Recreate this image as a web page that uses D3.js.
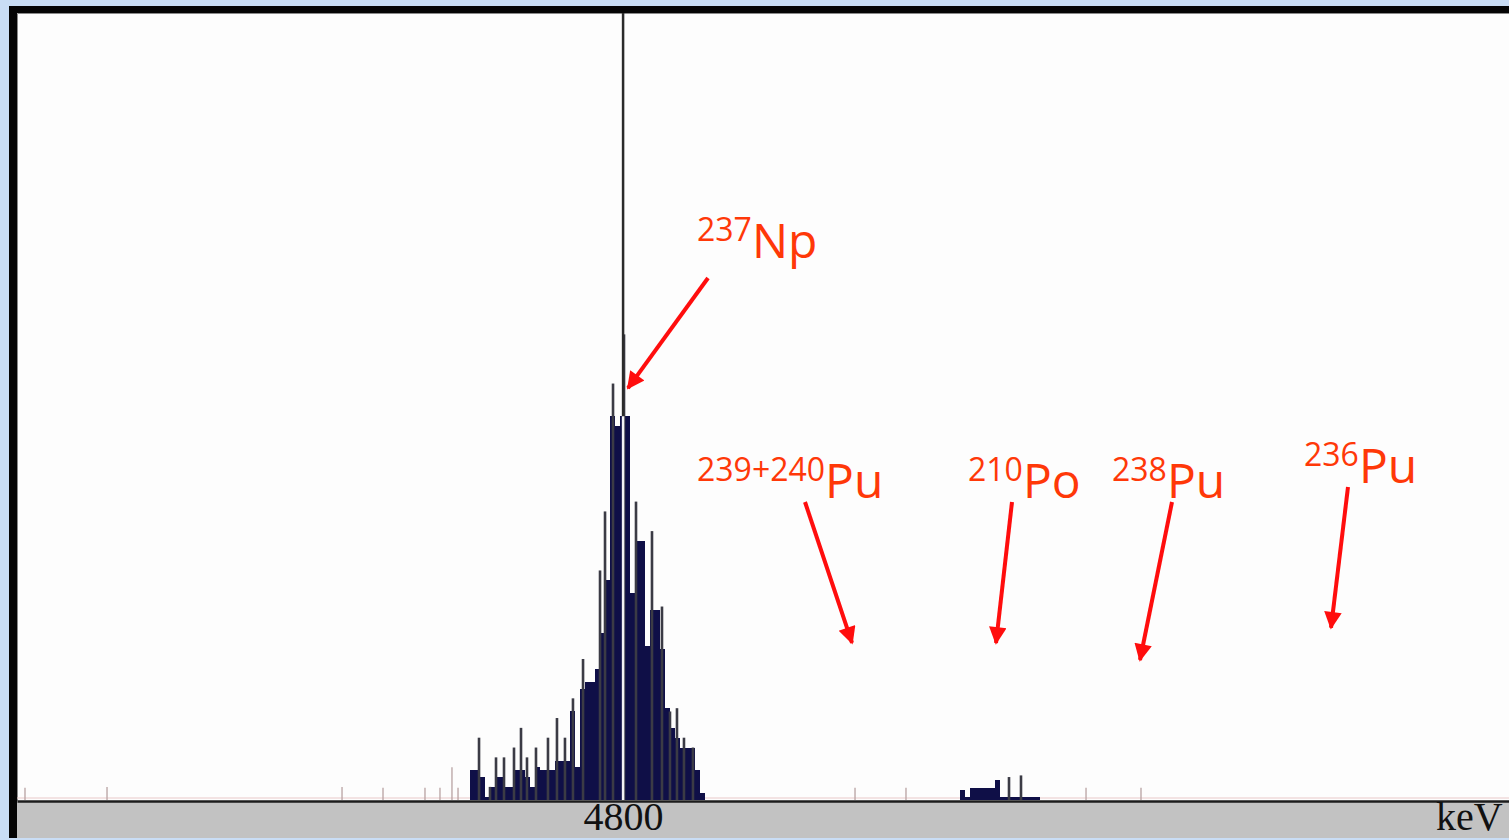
<!DOCTYPE html>
<html>
<head>
<meta charset="utf-8">
<script src="https://cdn.jsdelivr.net/npm/d3@7"></script>
<style>
  html, body { margin: 0; padding: 0; background: #c9ddf5; overflow: hidden; }
  svg { display: block; }
</style>
</head>
<body>
<svg id="chart" width="1509" height="840"></svg>
<script>
// Alpha spectrum: 237Np tracer peak and the empty Pu / Po windows.
// Energies in keV, contents in counts per channel.

// Main 237Np peak, binned channels
const npStart = 4585.5;
const binWidth = 7;
const npCounts = [9, 9, 7, 1, 4, 7, 7, 4, 4, 9,
                  9, 7, 4, 10, 9, 9, 9, 12, 12, 12,
                  27, 10, 34, 36, 36, 40, 51, 67, 117, 114,
                  117, 117, 63, 79, 79, 47, 58, 58, 46, 28,
                  22, 19, 16, 16, 16, 9, 2];

// Small group of counts in the 210Po window
const poStart = 5272;
const poCounts = [3, 0.8, 3.7, 3.7, 3.7, 3.7, 3.7, 6, 0.8, 0.8,
                  0.8, 0.8, 0.8, 0.8, 0.8, 0.8];

// Single-channel maxima rising above the binned contents
const spikeEnergies = [4598.2, 4613.6, 4622.0, 4633.2, 4647.2, 4657.0, 4665.4, 4678.0,
                       4694.8, 4707.4, 4718.6, 4729.8, 4743.9, 4767.7, 4774.7, 4785.9,
                       4801.3, 4818.1, 4840.5, 4854.5, 4865.7, 4875.5, 4885.3, 4897.9,
                       5340.6, 5357.4];
const spikeCounts = [19, 4, 13, 13, 16, 22, 13, 16,
                     19, 25, 19, 31, 43, 70, 88, 127,
                     142, 91, 82, 59, 27, 28, 19, 16,
                     7, 7.5];

// Isolated background counts
const noiseEnergies = [3962.2, 4077.1, 4406.3, 4463.7, 4522.5, 4543.5, 4560.3, 4568.8,
                       5124.9, 5196.3, 5448.5, 5525.5];
const noiseCounts = [3.7, 4, 4, 3.7, 3.7, 3.7, 10, 3.7, 3.7, 3.7, 3.7, 3.7];

// Axis
const xTickValues = [4800];
const xUnit = "keV";
const cursorEnergy = 4800;

// Nuclide annotations: mass number, element, where the arrow points (keV, counts)
const nuclideMass = ["237", "239+240", "210", "238", "236"];
const nuclideSymbol = ["Np", "Pu", "Po", "Pu", "Pu"];
const arrowTipEnergy = [4806.9, 5120.7, 5322.4, 5524.1, 5791.7];
const arrowTipCounts = [125.6, 47.9, 47.9, 42.7, 52.5];

// Label placement (label anchor in px, arrow tail offset from anchor)
const labelLayout = [
  { x: 697,  y: 258, tx: 11,  ty: 20 },
  { x: 697,  y: 498, tx: 108, ty: 4 },
  { x: 968,  y: 498, tx: 44,  ty: 4 },
  { x: 1112, y: 498, tx: 60,  ty: 4 },
  { x: 1304, y: 483, tx: 44,  ty: 4 }
];

const W = 1509, H = 840;
const plot = { left: 17, top: 13, right: 1509, bottom: 801 };

const svg = d3.select("#chart");

const x = d3.scaleLinear().domain([3951, 6041]).range([plot.left, plot.right]);
const y = d3.scaleLinear().domain([0, 240]).range([plot.bottom - 1, plot.top]);

// outer frame
svg.append("rect").attr("x", 0).attr("y", 0).attr("width", W).attr("height", H).attr("fill", "#c9ddf5");
svg.append("rect").attr("x", 9).attr("y", 6).attr("width", W - 9).attr("height", 832).attr("fill", "#050505");
svg.append("rect").attr("x", plot.left).attr("y", plot.top)
  .attr("width", plot.right - plot.left).attr("height", plot.bottom - plot.top)
  .attr("fill", "#fdfdfd");
// grey axis band
svg.append("rect").attr("x", plot.left).attr("y", plot.bottom)
  .attr("width", plot.right - plot.left).attr("height", 838 - plot.bottom)
  .attr("fill", "#c2c2c2");
// thin inner bevel
svg.append("path")
  .attr("d", `M${plot.left + 0.5},${plot.bottom} V${plot.top + 0.5} H${plot.right}`)
  .attr("fill", "none").attr("stroke", "#8a8a8a").attr("stroke-width", 1);

const g = svg.append("g");
g.append("clipPath").attr("id", "plotClip").append("rect")
  .attr("x", plot.left).attr("y", plot.top)
  .attr("width", plot.right - plot.left).attr("height", plot.bottom - plot.top);
const inner = g.append("g").attr("clip-path", "url(#plotClip)");

// faint pink trace just above the baseline
inner.append("line")
  .attr("x1", plot.left).attr("x2", plot.right)
  .attr("y1", y(0) - 2).attr("y2", y(0) - 2)
  .attr("stroke", "#e9c9c9").attr("stroke-width", 1);

// background counts
inner.selectAll("line.noise").data(noiseEnergies).join("line")
  .attr("class", "noise")
  .attr("x1", d => x(d)).attr("x2", d => x(d))
  .attr("y1", (d, i) => y(noiseCounts[i])).attr("y2", y(0))
  .attr("stroke", "#b8a2a2").attr("stroke-width", 1.3);

// binned histogram as a step area
function stepData(start, counts) {
  const pts = counts.map((c, i) => ({ e: start + i * binWidth, c }));
  pts.push({ e: start + counts.length * binWidth, c: counts[counts.length - 1] });
  return pts;
}
const area = d3.area()
  .curve(d3.curveStepAfter)
  .x(d => x(d.e))
  .y0(y(0))
  .y1(d => y(d.c));

inner.append("path").datum(stepData(npStart, npCounts))
  .attr("d", area).attr("fill", "#0f0f47").attr("shape-rendering", "crispEdges");
inner.append("path").datum(stepData(poStart, poCounts))
  .attr("d", area).attr("fill", "#0f0f47").attr("shape-rendering", "crispEdges");

// channel maxima
const spikeW = 2.6;
inner.selectAll("rect.spike").data(spikeEnergies).join("rect")
  .attr("class", "spike")
  .attr("x", d => x(d) - spikeW / 2)
  .attr("width", spikeW)
  .attr("y", (d, i) => y(spikeCounts[i]))
  .attr("height", (d, i) => y(0) - y(spikeCounts[i]))
  .attr("fill", "#3b3b45");

// region cursor: dark over the empty plot, light where it crosses the filled peak
const cursorBin = Math.floor((cursorEnergy - npStart) / binWidth);
const fillAtCursor = npCounts[cursorBin] || 0;
inner.append("line")
  .attr("x1", x(cursorEnergy)).attr("x2", x(cursorEnergy))
  .attr("y1", plot.top).attr("y2", y(fillAtCursor))
  .attr("stroke", "#2b2b2b").attr("stroke-width", 2.5);
inner.append("line")
  .attr("x1", x(cursorEnergy)).attr("x2", x(cursorEnergy))
  .attr("y1", y(fillAtCursor)).attr("y2", y(0))
  .attr("stroke", "#f4f4f4").attr("stroke-width", 2.5);

// energy axis
const axisFont = "'Liberation Serif', 'Times New Roman', serif";
const xAxis = d3.axisBottom(x).tickValues(xTickValues).tickSize(0).tickPadding(0.6)
  .tickFormat(d3.format("d"));
const axisG = svg.append("g")
  .attr("transform", `translate(0,${plot.bottom})`)
  .call(xAxis);
axisG.select(".domain").attr("stroke", "#1c1c1c").attr("stroke-width", 2.5);
axisG.selectAll(".tick text")
  .attr("font-family", axisFont)
  .attr("font-size", 40).attr("fill", "#111");

svg.append("text")
  .attr("x", 1436).attr("y", 830)
  .attr("font-family", axisFont)
  .attr("font-size", 40).attr("fill", "#111")
  .text(xUnit);

// nuclide labels and arrows
const defs = svg.append("defs");
defs.append("marker")
  .attr("id", "arrowHead")
  .attr("viewBox", "0 0 10 10")
  .attr("refX", 9).attr("refY", 5)
  .attr("markerWidth", 5).attr("markerHeight", 4.4)
  .attr("markerUnits", "strokeWidth")
  .attr("orient", "auto")
  .append("path").attr("d", "M0,0 L10,5 L0,10 Z").attr("fill", "#ff0d0d");

const ann = svg.append("g");
nuclideMass.forEach((mass, i) => {
  const L = labelLayout[i];
  const t = ann.append("text")
    .attr("x", L.x).attr("y", L.y)
    .attr("font-family", "'Open Sans', 'Noto Sans', sans-serif")
    .attr("fill", "#ff3808");
  t.append("tspan").attr("font-size", 32).attr("dy", -17).text(mass);
  t.append("tspan").attr("font-size", 48).attr("dy", 17).text(nuclideSymbol[i]);

  const x1 = L.x + L.tx, y1 = L.y + L.ty;
  const x2 = x(arrowTipEnergy[i]), y2 = y(arrowTipCounts[i]);
  ann.append("line")
    .attr("x1", x1).attr("y1", y1).attr("x2", x2).attr("y2", y2)
    .attr("stroke", "#ff0d0d").attr("stroke-width", 4)
    .attr("marker-end", "url(#arrowHead)");
});
</script>
</body>
</html>
